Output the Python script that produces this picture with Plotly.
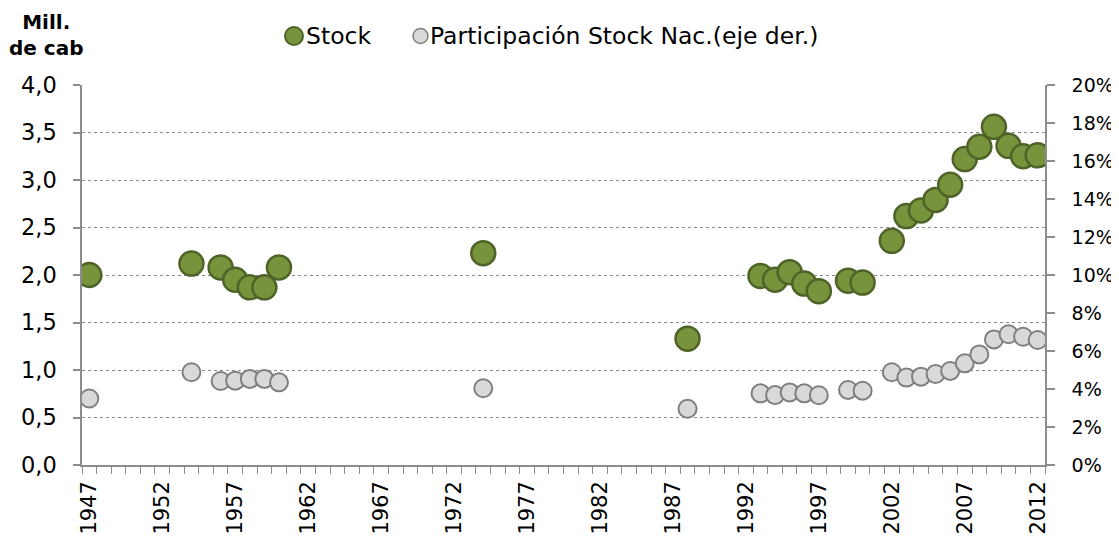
import plotly.graph_objects as go

years = [1947, 1954, 1956, 1957, 1958, 1959, 1960, 1974, 1988, 1993, 1994, 1995,
         1996, 1997, 1999, 2000, 2002, 2003, 2004, 2005, 2006, 2007, 2008, 2009,
         2010, 2011, 2012]
stock = [2.00, 2.12, 2.08, 1.95, 1.87, 1.87, 2.08, 2.23, 1.33, 1.99, 1.95, 2.03,
         1.91, 1.83, 1.94, 1.92, 2.36, 2.62, 2.68, 2.79, 2.95, 3.22, 3.35, 3.56,
         3.36, 3.25, 3.26]
participacion = [0.0350, 0.0488, 0.0442, 0.0444, 0.0453, 0.0453, 0.0435, 0.0404,
                 0.0296, 0.0377, 0.0368, 0.0382, 0.0377, 0.0367, 0.0395, 0.0391,
                 0.0488, 0.0460, 0.0465, 0.0479, 0.0495, 0.0535, 0.0582, 0.0661,
                 0.0688, 0.0675, 0.0658]
year_first, year_last = 1947, 2012
x_tick_years = list(range(1947, 2013, 5))
left_ticks = [0, 0.5, 1.0, 1.5, 2.0, 2.5, 3.0, 3.5, 4.0]
right_ticks = [0, 0.02, 0.04, 0.06, 0.08, 0.10, 0.12, 0.14, 0.16, 0.18, 0.20]
series_names = ["Stock", "Participación Stock Nac.(eje der.)"]

FONT = "DejaVu Sans"
AXIS_GREY = "#8c8c8c"
GREEN, GREEN_LINE = "#77933C", "#4F6228"
GREY, GREY_LINE = "#D9D9D9", "#7F7F7F"

# page is rendered with an 8px body margin; figure fills the rest of the window
PAGE_W, PAGE_H = 1119, 541
OFF = 8
W, H = PAGE_W - OFF, PAGE_H - OFF
# plot area in page pixels
PL, PR, PT, PB = 82, 1045, 85, 465
L, T = PL - OFF, PT - OFF
R, B = W - (PR - OFF), H - (PB - OFF)
PW, PH = PR - PL, PB - PT


def px(x):
    return (x - PL) / PW


def py(y):
    return (PB - y) / PH


fig = go.Figure()
fig.add_trace(go.Scatter(
    x=years, y=stock, mode="markers", name=series_names[0],
    marker=dict(size=24, color=GREEN, line=dict(color=GREEN_LINE, width=2.5)),
    yaxis="y",
))
fig.add_trace(go.Scatter(
    x=years, y=participacion, mode="markers", name=series_names[1],
    marker=dict(size=18, color=GREY, line=dict(color=GREY_LINE, width=2)),
    yaxis="y2",
))

boundaries = [y - 0.5 for y in range(year_first, year_last + 2)]

# custom legend (symbols + labels)
leg_y = 36
shapes = [
    dict(type="circle", xref="paper", yref="paper",
         x0=px(285), x1=px(303), y0=py(leg_y + 9), y1=py(leg_y - 9),
         fillcolor=GREEN, line=dict(color=GREEN_LINE, width=2)),
    dict(type="circle", xref="paper", yref="paper",
         x0=px(413), x1=px(428), y0=py(leg_y + 7.5), y1=py(leg_y - 7.5),
         fillcolor=GREY, line=dict(color=GREY_LINE, width=1.5)),
]
annotations = [
    dict(text=series_names[0], xref="paper", yref="paper", x=px(304), y=py(leg_y),
         xanchor="left", yanchor="middle", showarrow=False,
         font=dict(family=FONT, size=23.5, color="black")),
    dict(text=series_names[1], xref="paper", yref="paper", x=px(428), y=py(leg_y),
         xanchor="left", yanchor="middle", showarrow=False,
         font=dict(family=FONT, size=23.5, color="black")),
    dict(text="<b>Mill.<br>de cab</b>", xref="paper", yref="paper",
         x=px(46), y=py(35), xanchor="center", yanchor="middle",
         showarrow=False, align="center",
         font=dict(family=FONT, size=20, color="black")),
]

fig.update_layout(
    width=W, height=H,
    margin=dict(l=L, r=R, t=T, b=B, autoexpand=False),
    paper_bgcolor="white", plot_bgcolor="white",
    separators=",.",
    font=dict(family=FONT, color="black", size=20),
    showlegend=False,
    xaxis=dict(
        range=[year_first - 0.5, year_last + 0.5],
        tickmode="array", tickvals=x_tick_years,
        ticktext=[str(y) for y in x_tick_years],
        tickangle=-90, ticks="", ticklen=0,
        tickfont=dict(family=FONT, size=21),
        showgrid=False, zeroline=False, automargin=False,
        showline=True, linecolor=AXIS_GREY, linewidth=1.5,
        minor=dict(tickmode="array", tickvals=boundaries, ticks="outside",
                   ticklen=7, tickcolor=AXIS_GREY, tickwidth=1, showgrid=False),
        ticklabelstandoff=6,
    ),
    yaxis=dict(
        range=[0, 4.0], tickmode="array", tickvals=left_ticks,
        tickformat=".1f", ticks="outside", ticklen=7, tickcolor=AXIS_GREY,
        tickwidth=1.5, automargin=False,
        tickfont=dict(family=FONT, size=22.5),
        showgrid=True, gridcolor="#8a8a8a", griddash="dot", gridwidth=1,
        zeroline=False, showline=True, linecolor=AXIS_GREY, linewidth=1.5,
        ticklabelstandoff=12,
    ),
    yaxis2=dict(
        range=[0, 0.20], overlaying="y", side="right",
        tickmode="array", tickvals=right_ticks, tickformat=".0%",
        ticks="outside", ticklen=8, tickcolor=AXIS_GREY, tickwidth=1.5,
        tickfont=dict(family=FONT, size=19), automargin=False,
        showgrid=False, zeroline=False, showline=True,
        linecolor=AXIS_GREY, linewidth=1.5, ticklabelstandoff=13,
    ),
    shapes=shapes,
    annotations=annotations,
)

fig.write_html("out.html")
